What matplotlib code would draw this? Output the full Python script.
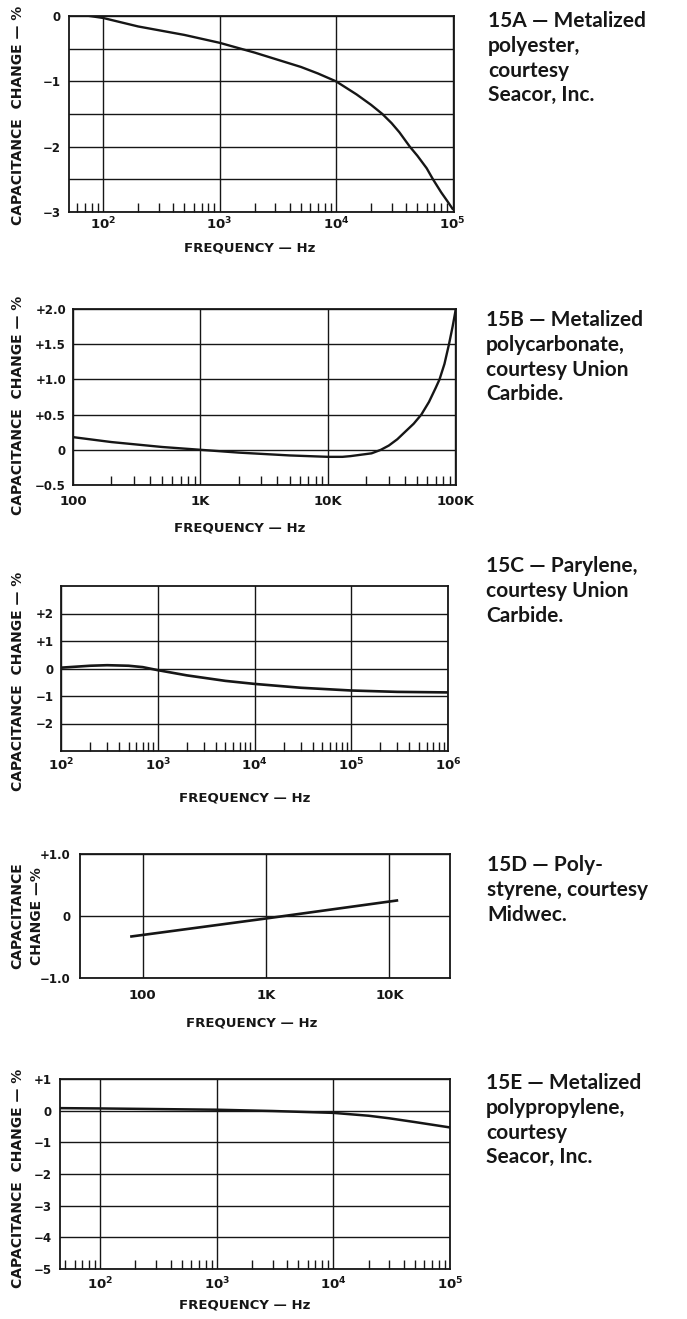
import numpy as np
import matplotlib.pyplot as plt
from matplotlib.ticker import LogLocator, NullFormatter

W, H = 687, 1319
INK = '#161616'

# 15A - metalized polyester
a_freq = [77, 100, 200, 500, 1e3, 2e3, 5e3, 7e3, 1e4, 1.5e4, 2e4, 2.5e4, 3e4, 3.5e4, 4.3e4,
          5e4, 6e4, 6.8e4, 8e4, 9e4, 1e5]
a_change = [0, -0.03, -0.16, -0.29, -0.41, -0.56, -0.78, -0.88, -1.0, -1.2, -1.36, -1.5, -1.64,
            -1.78, -2.0, -2.14, -2.33, -2.5, -2.7, -2.83, -2.95]

# 15B - metalized polycarbonate
b_freq = [100, 200, 500, 1e3, 2e3, 5e3, 1e4, 1.3e4, 1.5e4, 2.2e4, 2.6e4, 3e4, 3.5e4, 4e4, 4.7e4,
          5.4e4, 6.2e4, 7e4, 7.5e4, 8.2e4, 8.9e4, 9.5e4, 1e5]
b_change = [0.18, 0.11, 0.04, 0.0, -0.04, -0.08, -0.1, -0.1, -0.09, -0.05, 0.0, 0.06, 0.15, 0.25,
            0.37, 0.5, 0.68, 0.88, 1.0, 1.22, 1.5, 1.75, 1.97]

# 15C - parylene
c_freq = [100, 200, 300, 500, 700, 1e3, 2e3, 5e3, 1e4, 3e4, 1e5, 3e5, 1e6]
c_change = [0.03, 0.1, 0.12, 0.1, 0.05, -0.06, -0.25, -0.45, -0.56, -0.7, -0.8, -0.85, -0.87]

# 15D - polystyrene
d_freq = [81, 1e3, 1.15e4]
d_change = [-0.33, -0.04, 0.25]

# 15E - metalized polypropylene
e_freq = [45, 100, 1e3, 3e3, 1e4, 2e4, 3e4, 5e4, 1e5]
e_change = [0.08, 0.07, 0.03, -0.01, -0.07, -0.16, -0.24, -0.36, -0.53]

pow_labels = [r'$\mathbf{10^{%d}}$' % k for k in range(2, 7)]
k_labels = ['100', '1K', '10K', '100K']

captions = [
    '15A — Metalized\npolyester,\ncourtesy\nSeacor, Inc.',
    '15B — Metalized\npolycarbonate,\ncourtesy Union\nCarbide.',
    '15C — Parylene,\ncourtesy Union\nCarbide.',
    '15D — Poly-\nstyrene, courtesy\nMidwec.',
    '15E — Metalized\npolypropylene,\ncourtesy\nSeacor, Inc.',
]

fig = plt.figure(figsize=(W / 100, H / 100), dpi=100)


def fx(px):
    return px / W


def fy(py):
    return 1 - py / H


def panel(rect, xlim, ylim, xticks, xlabels, yticks, ylabels, xpad, ypad, minor=True):
    L, T, R, B = rect
    ax = fig.add_axes([fx(L), fy(B), (R - L) / W, (B - T) / H])
    ax.set_xscale('log')
    ax.set_xlim(*xlim)
    ax.set_ylim(*ylim)
    ax.set_xticks(xticks, xlabels)
    ax.set_yticks(yticks, ylabels)
    ax.grid(True, which='major', color=INK, lw=1.0)
    ax.tick_params(which='major', length=0, colors=INK)
    ax.tick_params(axis='x', which='major', pad=xpad, labelsize=9.5)
    ax.tick_params(axis='y', which='major', pad=ypad, labelsize=8.5)
    for lab in ax.get_xticklabels() + ax.get_yticklabels():
        lab.set_fontweight('bold')
    if minor:
        ax.xaxis.set_minor_locator(LogLocator(base=10, subs=np.arange(2, 10), numticks=30))
        ax.xaxis.set_minor_formatter(NullFormatter())
        ax.tick_params(axis='x', which='minor', direction='in', length=6.5, width=1.0, color=INK)
    else:
        ax.xaxis.set_minor_locator(plt.NullLocator())
    ax.tick_params(axis='y', which='minor', length=0)
    for s in ax.spines.values():
        s.set_linewidth(1.3)
        s.set_color(INK)
    return ax


# 15A
ax = panel((69, 16, 454, 212), (51, 1.03e5), (-3, 0),
           [1e2, 1e3, 1e4, 1e5], pow_labels[:4],
           np.arange(0, -3.01, -0.5), ['0', '', '−1', '', '−2', '', '−3'], 3, 6)
ax.plot(a_freq, a_change, color=INK, lw=1.7)

# 15B
ax = panel((73, 309, 456, 485), (100, 1.01e5), (-0.5, 2.0),
           [1e2, 1e3, 1e4, 1e5], k_labels,
           np.arange(-0.5, 2.01, 0.5), ['−0.5', '0', '+0.5', '+1.0', '+1.5', '+2.0'], 7, 5)
ax.plot(b_freq, b_change, color=INK, lw=1.7)

# 15C
ax = panel((61, 586, 448, 751), (100, 1e6), (-3, 3),
           [1e2, 1e3, 1e4, 1e5, 1e6], pow_labels[:5],
           [-2, -1, 0, 1, 2], ['−2', '−1', '0', '+1', '+2'], 4, 5)
ax.plot(c_freq, c_change, color=INK, lw=1.9)

# 15D
ax = panel((80, 854, 450, 978), (31, 3.1e4), (-1, 1),
           [1e2, 1e3, 1e4], k_labels[:3],
           [-1, 0, 1], ['−1.0', '0', '+1.0'], 8, 7, minor=False)
ax.plot(d_freq, d_change, color=INK, lw=1.9)

# 15E
ax = panel((60, 1079, 450, 1269), (45, 1e5), (-5, 1),
           [1e2, 1e3, 1e4, 1e5], pow_labels[:4],
           [-5, -4, -3, -2, -1, 0, 1], ['−5', '−4', '−3', '−2', '−1', '0', '+1'], 5, 6)
ax.plot(e_freq, e_change, color=INK, lw=1.8)

# axis titles
ylab = 'CAPACITANCE  CHANGE — %'
for x, y in [(18, 115), (18, 405), (18, 681), (18, 1178)]:
    fig.text(fx(x), fy(y), ylab, rotation=90, ha='center', va='center',
             fontsize=10, fontweight='bold', color=INK)
fig.text(fx(27), fy(916), 'CAPACITANCE\nCHANGE —%', rotation=90, ha='center', va='center',
         fontsize=10, fontweight='bold', color=INK, linespacing=1.5)

for x, y in [(250, 248), (240, 528), (245, 798), (252, 1023), (245, 1305)]:
    fig.text(fx(x), fy(y), 'FREQUENCY — Hz', ha='center', va='center',
             fontsize=9.5, fontweight='bold', color=INK)

# captions on the right
for (x, y), txt in zip([(488, 11), (486, 310), (486, 556), (487, 855), (486, 1073)], captions):
    fig.text(fx(x), fy(y), txt, ha='left', va='top', fontsize=15, fontweight='bold',
             family=['Lato', 'DejaVu Sans'], color=INK, linespacing=1.3)

fig.savefig('out.png', dpi=100, facecolor='white')
